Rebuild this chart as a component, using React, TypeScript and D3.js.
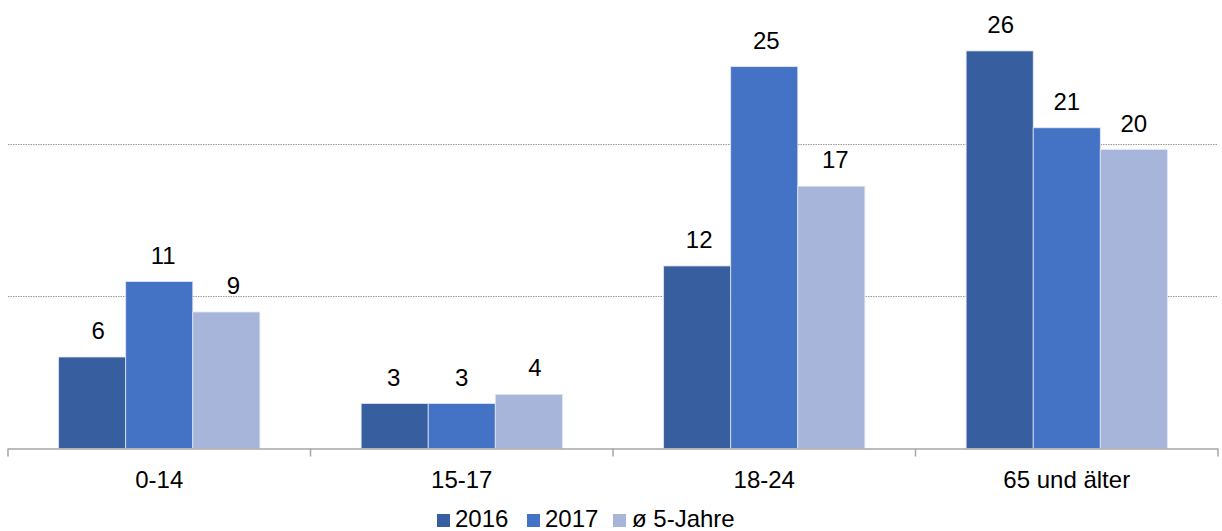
import React from "react";
import * as d3 from "d3";

const categories = ["0-14", "15-17", "18-24", "65 und älter"];
const seriesNames = ["2016", "2017", "ø 5-Jahre"];
const values2016 = [6.0, 2.95, 11.97, 26.07];
const values2017 = [10.95, 2.95, 25.04, 21.03];
const valuesAvg = [8.95, 3.55, 17.2, 19.6];
const seriesColors = ["#375E9F", "#4472C4", "#A8B5DA"];
const gridValues = [10, 20];
// small manual nudges of data labels (as in the original), per series/category
const labelNudge = [
  [6, -1, 2, 1],
  [4, 0, 2, 0],
  [7, 6, 4, 0],
];

const W = 1222;
const H = 531;
const FONT = "'Liberation Sans', Arial, sans-serif";

export default function App() {
  const seriesValues = [values2016, values2017, valuesAvg];
  const x0 = d3.scaleBand<string>().domain(categories).range([8, 1218]).padding(0);
  const x1 = d3
    .scaleBand<string>()
    .domain(seriesNames)
    .range([0, x0.bandwidth()])
    .paddingInner(0)
    .paddingOuter(0.755);
  const y = d3.scaleLinear().domain([0, 30]).range([448.5, 448.5 - 30 * 15.25]);
  const baseY = y(0);
  const tickXs = [...categories.map((c) => x0(c) as number), 1218];

  const legendItems = [
    { sq: 437, tx: 455 },
    { sq: 527, tx: 545 },
    { sq: 613, tx: 632 },
  ];

  return (
    <svg
      width={W}
      height={H}
      style={{ position: "absolute", left: 0, top: 0, display: "block" }}
      fontFamily={FONT}
    >
      <rect width={W} height={H} fill="#ffffff" />
      {gridValues.map((g) => (
        <line
          key={g}
          x1={8}
          x2={1218}
          y1={Math.round(y(g)) + 0.5}
          y2={Math.round(y(g)) + 0.5}
          stroke="#9a9a9a"
          strokeWidth={1}
          strokeDasharray="1.5 1"
        />
      ))}
      {categories.map((c, ci) => (
        <g key={c} transform={`translate(${x0(c)},0)`}>
          {seriesNames.map((s, si) => {
            const v = seriesValues[si][ci];
            const bx = x1(s) as number;
            const bw = x1.bandwidth();
            return (
              <g key={s}>
                <rect
                  x={bx}
                  y={y(v)}
                  width={bw}
                  height={baseY - y(v)}
                  fill={seriesColors[si]}
                  stroke="#dfe6f3"
                  strokeWidth={0.8}
                />
                <text
                  x={bx + bw / 2 + labelNudge[si][ci]}
                  y={y(v) - 18}
                  textAnchor="middle"
                  fontSize={24}
                  fill="#000"
                >
                  {Math.round(v)}
                </text>
              </g>
            );
          })}
          <text
            x={x0.bandwidth() / 2}
            y={488}
            textAnchor="middle"
            fontSize={24}
            fill="#000"
          >
            {c}
          </text>
        </g>
      ))}
      <line x1={8} x2={1218} y1={baseY + 0.5} y2={baseY + 0.5} stroke="#a6a6a6" strokeWidth={1.5} />
      {tickXs.map((tx, i) => (
        <line key={i} x1={tx} x2={tx} y1={baseY} y2={baseY + 8} stroke="#a6a6a6" strokeWidth={1.5} />
      ))}
      {seriesNames.map((s, i) => (
        <g key={s}>
          <rect x={legendItems[i].sq} y={514} width={13} height={13} fill={seriesColors[i]} />
          <text x={legendItems[i].tx} y={527} fontSize={24} fill="#000">
            {s}
          </text>
        </g>
      ))}
    </svg>
  );
}
